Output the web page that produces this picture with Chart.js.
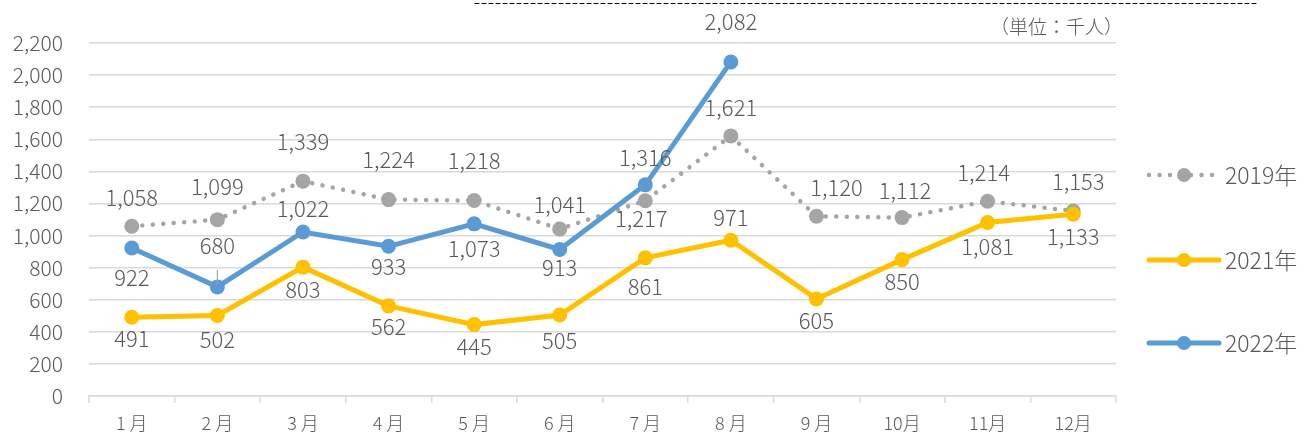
<!DOCTYPE html>
<html>
<head>
  <meta charset="utf-8" />
  <title>月別推移</title>
  <script src="https://cdn.jsdelivr.net/npm/chart.js"></script>
  <style>
    html, body { margin: 0; padding: 0; background: #fff; }
    #wrap { position: relative; width: 1304px; height: 438px; }
  </style>
</head>
<body>
  <div id="wrap">
    <canvas id="monthlyChart" width="1304" height="438"></canvas>
  </div>

  <script>
    // データ（単位：千人）
    const months = ['1 月', '2 月', '3 月', '4 月', '5 月', '6 月', '7 月', '8 月', '9 月', '10月', '11月', '12月'];
    const seriesNames = ['2019年', '2021年', '2022年'];
    const values2019 = [1058, 1099, 1339, 1224, 1218, 1041, 1217, 1621, 1120, 1112, 1214, 1153];
    const values2021 = [491, 502, 803, 562, 445, 505, 861, 971, 605, 850, 1081, 1133];
    const values2022 = [922, 680, 1022, 933, 1073, 913, 1316, 2082];
    const yTicks = [0, 200, 400, 600, 800, 1000, 1200, 1400, 1600, 1800, 2000, 2200];

    // ラベル位置（点からのずれ）
    const labelDy = [
      [-29, -33, -40, -40, -40, -24, 18, -28, -29, -27, -29, -29],
      [21, 24, 22, 21, 22, 26, 29, -23, 22, 22, 24, 22],
      [30, -41, -23, 20, 25, 18, -27, -40]
    ];
    const labelDx = [
      [0, 0, 0, 0, 0, 0, -4, 0, 20, 3, -4, 5],
      [0, 0, 0, 0, 0, 0, 0, 0, 0, 0, 0, 0],
      [0, 0, 0, 0, 0, 0, 0, 0]
    ];
    const legendY = [175, 260, 343];

    const FONT = '"Noto Sans CJK JP", "Noto Sans", sans-serif';
    const TEXT = '#595959';
    const GRID = '#D9D9D9';

    const fmt = v => v.toLocaleString('en-US');

    // データラベル
    const dataLabels = {
      id: 'dataLabels',
      afterDatasetsDraw(chart) {
        const ctx = chart.ctx;
        ctx.save();
        ctx.font = '300 22px ' + FONT;
        ctx.fillStyle = TEXT;
        ctx.textAlign = 'center';
        ctx.textBaseline = 'middle';
        chart.data.datasets.forEach((ds, i) => {
          const meta = chart.getDatasetMeta(i);
          meta.data.forEach((pt, j) => {
            ctx.fillText(fmt(ds.data[j]), pt.x + labelDx[i][j], pt.y + labelDy[i][j]);
          });
        });
        // 680 の引き出し線
        const p = chart.getDatasetMeta(2).data[1];
        ctx.strokeStyle = '#A5A5A5';
        ctx.lineWidth = 1.2;
        ctx.beginPath();
        ctx.moveTo(p.x, p.y - 17);
        ctx.lineTo(p.x, p.y - 3);
        ctx.stroke();
        ctx.restore();
      }
    };

    // 凡例・単位・上部の破線
    const extras = {
      id: 'extras',
      afterDraw(chart) {
        const ctx = chart.ctx;
        ctx.save();
        chart.data.datasets.forEach((ds, i) => {
          const y = legendY[i];
          ctx.strokeStyle = ds.borderColor;
          ctx.lineWidth = ds.borderWidth;
          ctx.lineCap = ds.borderCapStyle || 'butt';
          ctx.setLineDash(ds.borderDash || []);
          ctx.beginPath();
          ctx.moveTo(1149, y);
          ctx.lineTo(1219, y);
          ctx.stroke();
          ctx.setLineDash([]);
          ctx.fillStyle = ds.pointBackgroundColor;
          ctx.beginPath();
          ctx.arc(1184, y, 7, 0, Math.PI * 2);
          ctx.fill();
          ctx.fillStyle = TEXT;
          ctx.font = '300 23px ' + FONT;
          ctx.textAlign = 'left';
          ctx.textBaseline = 'middle';
          ctx.fillText(seriesNames[i], 1225, y);
        });

        ctx.font = '300 19px ' + FONT;
        ctx.fillStyle = TEXT;
        ctx.textAlign = 'right';
        ctx.textBaseline = 'middle';
        ctx.fillText('（単位：千人）', 1123, 27);

        ctx.strokeStyle = '#000';
        ctx.lineWidth = 1;
        ctx.setLineDash([4, 3]);
        ctx.beginPath();
        ctx.moveTo(475, 3.5);
        ctx.lineTo(1256, 3.5);
        ctx.stroke();
        ctx.restore();
      }
    };

    const ctx1 = document.getElementById('monthlyChart').getContext('2d');
    const monthlyChart = new Chart(ctx1, {
      type: 'line',
      data: {
        labels: months,
        datasets: [{
          label: seriesNames[0],
          data: values2019,
          borderColor: '#A5A5A5',
          borderWidth: 4.5,
          borderDash: [0.01, 10.5],
          borderCapStyle: 'round',
          pointRadius: 7.5,
          pointBackgroundColor: '#A5A5A5',
          pointBorderWidth: 0,
          tension: 0,
          order: 2
        }, {
          label: seriesNames[1],
          data: values2021,
          borderColor: '#FFC000',
          borderWidth: 5,
          borderCapStyle: 'round',
          pointRadius: 7.5,
          pointBackgroundColor: '#FFC000',
          pointBorderWidth: 0,
          tension: 0,
          order: 1
        }, {
          label: seriesNames[2],
          data: values2022,
          borderColor: '#5B9BD5',
          borderWidth: 5,
          borderCapStyle: 'round',
          pointRadius: 7.5,
          pointBackgroundColor: '#5B9BD5',
          pointBorderWidth: 0,
          tension: 0,
          order: 0
        }]
      },
      options: {
        responsive: false,
        animation: false,
        devicePixelRatio: 1,
        layout: {
          padding: { left: 0, top: 43, right: 188, bottom: 0 }
        },
        plugins: {
          legend: { display: false },
          tooltip: { enabled: false }
        },
        scales: {
          x: {
            offset: true,
            grid: {
              offset: true,
              drawOnChartArea: false,
              drawTicks: true,
              tickLength: 7,
              color: GRID,
              lineWidth: 1.5
            },
            border: { color: GRID, width: 1.5 },
            ticks: {
              color: TEXT,
              font: { family: FONT, size: 18, weight: 300 },
              padding: 9,
              maxRotation: 0,
              autoSkip: false
            },
            afterFit: s => { s.height = 42; }
          },
          y: {
            min: 0,
            max: 2200,
            afterBuildTicks: s => { s.ticks = yTicks.map(v => ({ value: v })); },
            grid: { color: GRID, lineWidth: 1.5, drawTicks: false },
            border: { display: false },
            ticks: {
              color: TEXT,
              font: { family: FONT, size: 21, weight: 300 },
              padding: 26,
              callback: v => fmt(v)
            },
            afterFit: s => { s.width = 89; }
          }
        }
      },
      plugins: [dataLabels, extras]
    });
  </script>
</body>
</html>
